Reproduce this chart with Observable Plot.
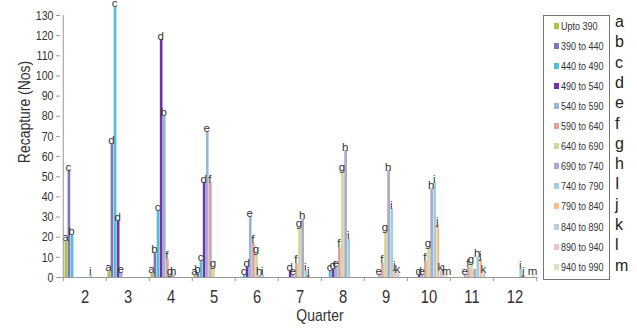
<!DOCTYPE html>
<html>
<head>
<meta charset="utf-8">
<script src="https://cdn.jsdelivr.net/npm/d3@7"></script>
<script src="https://cdn.jsdelivr.net/npm/@observablehq/plot@0.6"></script>
<style>
  body { margin: 0; background: #fff; }
  #wrap { position: relative; width: 637px; height: 328px; overflow: hidden;
          font-family: "Liberation Sans", Arial, sans-serif; color: #333; }
  #wrap svg { position: absolute; left: 0; top: 0; overflow: visible; }
  g[aria-label^="x-axis"] text { font-size: 18px; }
  g[aria-label^="y-axis"] text { font-size: 13px; }
  g[aria-label^="y-axis"] path, g[aria-label^="y-axis"] line { stroke: #999; }
  #legend { position: absolute; left: 543px; top: 15px; width: 67px; height: 265px;
            border: 1px solid #777; box-sizing: border-box; background: #fff; }
  .item { position: absolute; left: 10px; height: 14px; font-size: 11px; line-height: 14px; white-space: nowrap; }
  .sw { display: inline-block; width: 5px; height: 6px; margin-right: 2px; vertical-align: 1px; }
  .nm { display: inline-block; transform: scaleX(0.82); transform-origin: left center; }
  .ltr { position: absolute; left: 615px; font-size: 16px; line-height: 18px; color: #222; }
  .title { position: absolute; width: 140px; height: 20px; line-height: 20px; text-align: center;
           font-size: 17px; color: #333; white-space: nowrap; }
  #xtitle { left: 250px; top: 306px; transform: scaleX(0.82); }
  #ytitle { left: -45px; top: 102px; transform: rotate(-90deg) scaleX(0.82); }
</style>
</head>
<body>
<div id="wrap"></div>
<script>
// ---- data ----
const quarters = [2, 3, 4, 5, 6, 7, 8, 9, 10, 11, 12];
const keys = ["a", "b", "c", "d", "e", "f", "g", "h", "i", "j", "k", "l", "m"];
const legendLetters = ["a", "b", "c", "d", "e", "f", "g", "h", "I", "j", "k", "l", "m"];
const seriesNames = ["Upto 390", "390 to 440", "440 to 490", "490 to 540", "540 to 590", "590 to 640",
  "640 to 690", "690 to 740", "740 to 790", "790 to 840", "840 to 890", "890 to 940", "940 to 990"];
const colors = ["#aac348", "#8572b4", "#4fbfd3", "#7233a0", "#97b5da", "#e2a09c",
  "#cdd99a", "#b3a5cb", "#9dd2dd", "#f8bc8e", "#bacde2", "#eac3c3", "#dae3c4"];
// recapture counts per series (rows) across quarters 2..12 (columns)
const counts = [
  [18, 3, 2, 1, 0, 0, 0, 0, 0, 0, 0],      // Upto 390
  [53, 66, 12, 2, 0, 0, 0, 0, 0, 0, 0],    // 390 to 440
  [21, 134, 33, 8, 1, 0, 3, 0, 0, 0, 0],   // 440 to 490
  [0, 28, 118, 47, 5, 3, 4, 0, 1, 0, 0],   // 490 to 540
  [0, 2, 80, 72, 30, 1, 5, 1, 1, 1, 0],    // 540 to 590
  [0, 0, 9, 47, 17, 7, 15, 7, 8, 5, 0],    // 590 to 640
  [0, 0, 1, 5, 12, 25, 53, 23, 15, 7, 0],  // 640 to 690
  [0, 0, 1, 0, 1, 29, 63, 53, 44, 4, 0],   // 690 to 740
  [1, 0, 0, 0, 1, 3, 19, 34, 47, 10, 4],   // 740 to 790
  [0, 0, 0, 0, 0, 1, 0, 4, 26, 9, 1],      // 790 to 840
  [0, 0, 0, 0, 0, 0, 0, 2, 3, 2, 0],       // 840 to 890
  [0, 0, 0, 0, 0, 0, 0, 0, 2, 0, 0],       // 890 to 940
  [0, 0, 0, 0, 0, 0, 0, 0, 1, 0, 1]        // 940 to 990
];
// letter annotations printed above the bars, one string per quarter, one character per series slot ("." = none)
const barLabels = [
  "acb.....i....", "adcde........", "abcdbfgh.....", "abcdefg......", "..cdefghi....",
  "...defghij...", "..cdefghi....", "....efghijk..", "...defghijklm", "....efg.hjk..", "........ij..m"
];
const yTicks = [0, 10, 20, 30, 40, 50, 60, 70, 80, 90, 100, 110, 120, 130];
const xTitle = "Quarter";
const yTitle = "Recapture (Nos)";

// ---- build rows ----
const rows = [];
keys.forEach((k, i) => quarters.forEach((q, j) => {
  const v = counts[i][j];
  if (v > 0) {
    const t = barLabels[j][i];
    rows.push({quarter: q, key: k, series: seriesNames[i], value: v, label: t === "." ? "" : t});
  }
}));

// ---- layout ----
const W = 637, H = 328, mL = 60, mR = 99, mT = 15, mB = 51;
const bw = (W - mL - mR) / quarters.length;
const pad = 1.5;
const slot = (bw - 2 * pad) / keys.length;

const marks = [];
keys.forEach((k, i) => {
  const data = rows.filter(d => d.key === k);
  marks.push(Plot.barY(data, {
    x: "quarter", y: "value", fill: colors[i],
    insetLeft: pad + i * slot, insetRight: bw - pad - (i + 1) * slot
  }));
});
keys.forEach((k, i) => {
  const data = rows.filter(d => d.key === k && d.label);
  marks.push(Plot.text(data, {
    x: "quarter", y: "value", text: "label",
    dx: -bw / 2 + pad + (i + 0.5) * slot - 1, dy: 0, lineAnchor: "bottom",
    fontSize: 11.5, fill: "#333", fontFamily: "Liberation Sans, Arial, sans-serif"
  }));
});
// axis lines and boundary ticks
marks.push(Plot.ruleY([0], {stroke: "#999"}));
marks.push(Plot.ruleX([quarters[0]], {dx: -bw / 2, y1: 0, y2: 130, stroke: "#999"}));
marks.push(Plot.ruleX(quarters, {dx: -bw / 2, y1: 0, y2: -2, stroke: "#999"}));
marks.push(Plot.ruleX([quarters[quarters.length - 1]], {dx: bw / 2, y1: 0, y2: -2, stroke: "#999"}));

const chart = Plot.plot({
  width: W, height: H,
  marginLeft: mL, marginRight: mR, marginTop: mT, marginBottom: mB,
  style: {fontFamily: "'Liberation Sans', Arial, sans-serif", fontSize: "13px", color: "#333", background: "transparent", overflow: "visible"},
  x: {type: "band", domain: quarters, padding: 0, tickSize: 0, tickPadding: 13, label: null},
  y: {domain: [0, 130], ticks: yTicks, tickSize: 4, tickPadding: 3, label: null},
  marks
});
const wrap = document.getElementById("wrap");
wrap.appendChild(chart);

// condense axis tick texts (narrow face look) — single-letter bar annotations keep normal width
chart.querySelectorAll("text").forEach(t => {
  const s = t.textContent.trim();
  if (/^[a-m]$/.test(s)) return;
  const len = t.getComputedTextLength();
  if (len > 0) {
    t.setAttribute("textLength", (len * 0.82).toFixed(2));
    t.setAttribute("lengthAdjust", "spacingAndGlyphs");
  }
});

// ---- axis titles ----
const xt = document.createElement("div");
xt.className = "title"; xt.id = "xtitle"; xt.textContent = xTitle;
wrap.appendChild(xt);
const yt = document.createElement("div");
yt.className = "title"; yt.id = "ytitle"; yt.textContent = yTitle;
wrap.appendChild(yt);

// ---- legend ----
const legend = document.createElement("div");
legend.id = "legend";
seriesNames.forEach((name, i) => {
  const it = document.createElement("div");
  it.className = "item";
  it.style.top = (2.7 + i * 20.08) + "px";
  it.innerHTML = `<span class="sw" style="background:${colors[i]}"></span><span class="nm">${name}</span>`;
  legend.appendChild(it);
});
wrap.appendChild(legend);
legendLetters.forEach((l, i) => {
  const el = document.createElement("div");
  el.className = "ltr";
  el.style.top = (13 + i * 20.3) + "px";
  el.textContent = l;
  wrap.appendChild(el);
});
</script>
</body>
</html>
